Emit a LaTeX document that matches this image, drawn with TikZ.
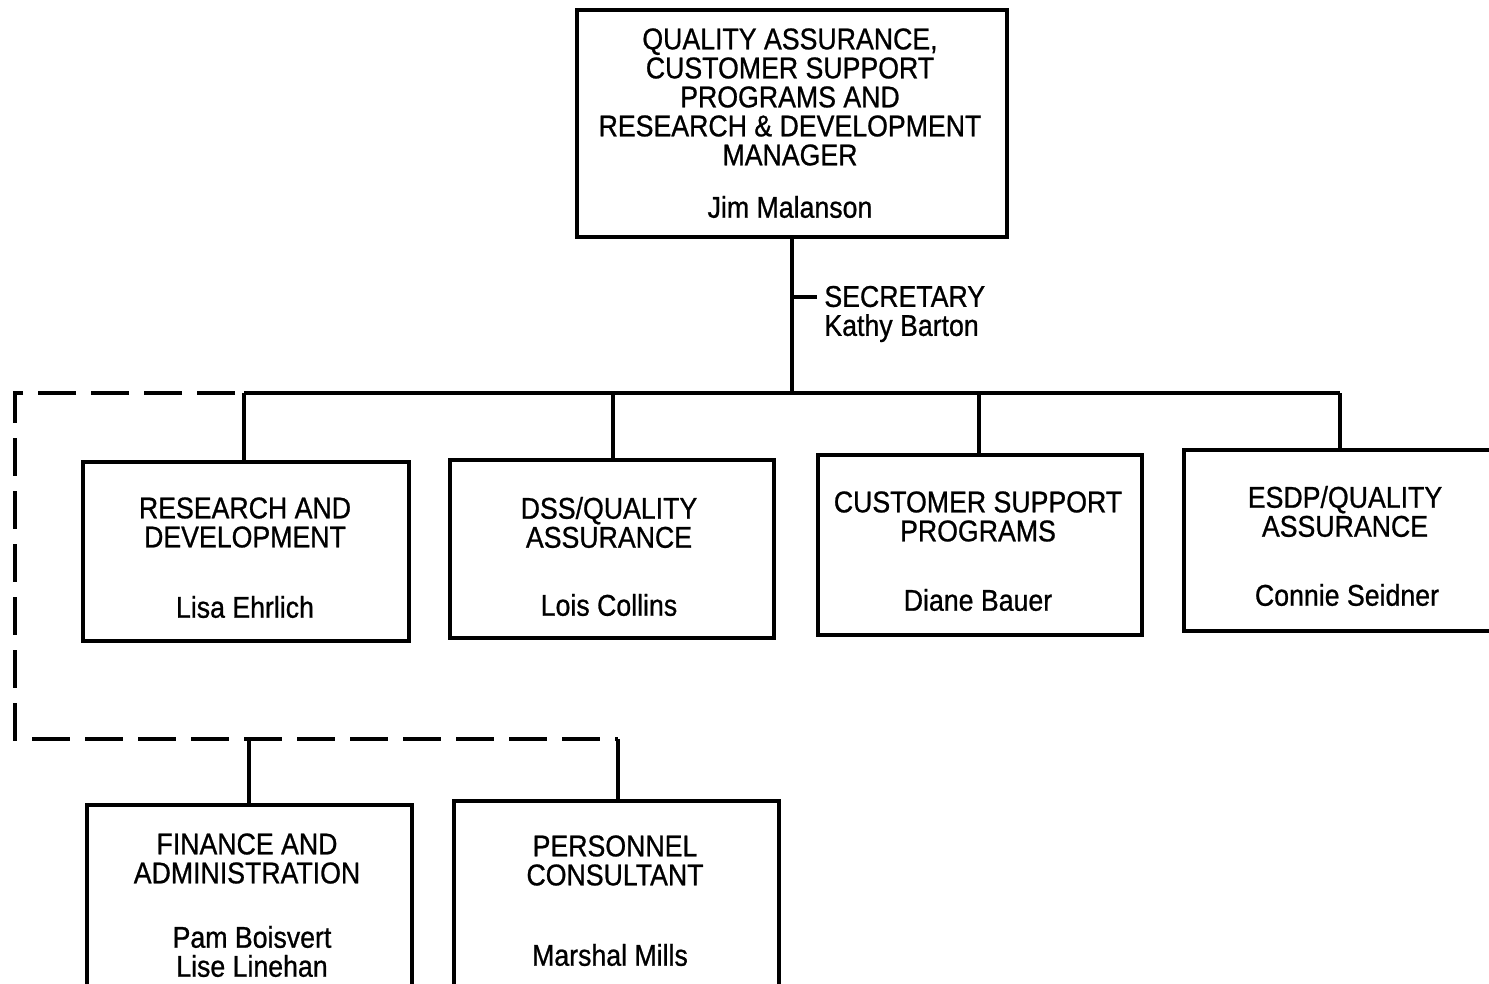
\documentclass[tikz,border=0pt]{standalone}
\usepackage{fontspec}
\setmainfont{Liberation Sans}[FakeStretch=0.89, FakeBold=0.8]
\begin{document}
\begin{tikzpicture}[x=0.5pt,y=-0.5pt,
  unit/.style={draw, line width=2.4pt, inner sep=0pt},
  txt/.style={inner sep=0pt, align=center, font=\fontsize{15}{14.5}\selectfont},
  link/.style={line width=1.8pt},
  dotted link/.style={line width=1.8pt, dash pattern=on 19pt off 7.5pt, dash phase=22pt}]
\useasboundingbox (0,0) rectangle (1489,984);
\clip (0,0) rectangle (1489,984);
\fill[white] (0,0) rectangle (1489,984);

% manager
\node[unit, minimum width=215pt, minimum height=113.5pt] (mgr) at (792,123.5) {};
\node[txt] (mgr-t) at (790,97) {QUALITY ASSURANCE,\\CUSTOMER SUPPORT\\PROGRAMS AND\\RESEARCH \& DEVELOPMENT\\MANAGER};
\node[txt] (mgr-n) at (790,207) {Jim Malanson};

% secretary
\node[txt, anchor=west, align=left] (sec) at (824,314) {SECRETARY\\Kathy Barton};

% departments
\node[unit, minimum width=163pt, minimum height=89.5pt] (rd) at (246,551.5) {};
\node[txt] (rd-t) at (245,522.5) {RESEARCH AND\\DEVELOPMENT};
\node[txt] (rd-n) at (245,607) {Lisa Ehrlich};

\node[unit, minimum width=162pt, minimum height=89pt] (dss) at (612,549) {};
\node[txt] (dss-t) at (609,522.5) {DSS/QUALITY\\ASSURANCE};
\node[txt] (dss-n) at (609,605) {Lois Collins};

\node[unit, minimum width=162pt, minimum height=90pt] (csp) at (980,545) {};
\node[txt] (csp-t) at (978,516.5) {CUSTOMER SUPPORT\\PROGRAMS};
\node[txt] (csp-n) at (978,600) {Diane Bauer};

\node[unit, minimum width=161pt, minimum height=90.5pt] (esdp) at (1345,540.5) {};
\node[txt] (esdp-t) at (1345,511.5) {ESDP/QUALITY\\ASSURANCE};
\node[txt] (esdp-n) at (1347,595) {Connie Seidner};

% staff units
\node[unit, minimum width=162.5pt, minimum height=100pt] (fin) at (249.5,905) {};
\node[txt] (fin-t) at (247,858.5) {FINANCE AND\\ADMINISTRATION};
\node[txt] (fin-n) at (252,951.5) {Pam Boisvert\\Lise Linehan};

\node[unit, minimum width=162.5pt, minimum height=99pt] (per) at (616.5,900) {};
\node[txt] (per-t) at (615,860.5) {PERSONNEL\\CONSULTANT};
\node[txt] (per-n) at (610,955) {Marshal Mills};

% reporting lines
\coordinate (bus-w) at (244,393);
\coordinate (bus-m) at (792,393);
\coordinate (bus-d) at (613,393);
\coordinate (bus-c) at (979,393);
\coordinate (bus-e) at (1340,393);
\coordinate (tick) at (792,297);
\coordinate (tick-end) at (817,297);
\coordinate (dl-nw) at (15,393);
\coordinate (dl-sw) at (15,739);
\coordinate (dl-f) at (249,739);
\coordinate (dl-e) at (618,739);

\draw[link] (mgr.south) -- (bus-m);
\draw[link] (tick) -- (tick-end);
\draw[link] (bus-w) -- (bus-e);
\draw[link] (bus-w) -- (bus-w |- rd.north);
\draw[link] (bus-d) -- (bus-d |- dss.north);
\draw[link] (bus-c) -- (bus-c |- csp.north);
\draw[link] (bus-e) -- (bus-e |- esdp.north);

% staff (dashed) line
\draw[dotted link] (bus-w) -- (dl-nw) -- (dl-sw) -- (dl-e);
\draw[link] (dl-f) -- (dl-f |- fin.north);
\draw[link] (dl-e) -- (dl-e |- per.north);
\end{tikzpicture}
\end{document}
